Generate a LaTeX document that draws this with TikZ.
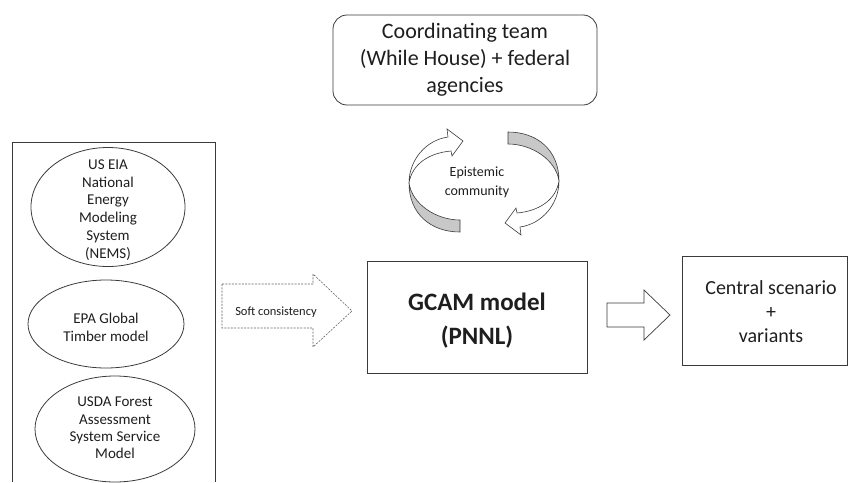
\documentclass[tikz,border=0pt]{standalone}
\usepackage{fontspec}
\setmainfont{Carlito}
\usetikzlibrary{shapes.geometric}
\definecolor{linec}{HTML}{3A3A3A}
\definecolor{ribbon}{HTML}{C8C8C8}
\definecolor{txt}{HTML}{1E1E1E}
\tikzset{
  outl/.style={draw=linec, line width=0.8pt},
  txtnode/.style={text=txt, align=center, inner sep=0pt},
  ellshape/.style={outl, ellipse, inner sep=0pt},
  pics/curvarrow/.style={code={
    % back (gray) half of the twisted ribbon
    \filldraw[fill=ribbon, draw=linec, line width=0.6pt]
      (-24,38) .. controls (-48,38) and (-72,22) .. (-75,1)
      .. controls (-75,32) and (-53,50) .. (-24,50) -- cycle;
    % front (white) half with arrow head
    \filldraw[fill=white, draw=linec, line width=0.6pt]
      (-75,1) .. controls (-75,-22) and (-58,-42) .. (-36,-45)
      -- (-37,-53) -- (-21,-41) -- (-32,-26) -- (-33,-31)
      .. controls (-55,-29) and (-72,-18) .. (-75,1) -- cycle;
  }}
}
\begin{document}
\begin{tikzpicture}[x=1pt,y=-1pt]
\useasboundingbox (0,0) rectangle (848,482);

% coordinating team
\node[outl, txtnode, rounded corners=14pt, minimum width=264pt, minimum height=90pt,
      font=\fontsize{22}{27}\selectfont] (coord) at (465,60)
  {Coordinating team\\(While House) + federal\\agencies};

% epistemic community
\pic at (484,182) {curvarrow};
\pic[rotate=180] at (484,182) {curvarrow};
\node[txtnode, font=\fontsize{14}{19}\selectfont] (epi) at (477,182) {Epistemic\\community};

% left container
\coordinate (cbl) at (12,482);
\coordinate (ctl) at (12,142);
\coordinate (ctr) at (215,142);
\coordinate (cbr) at (215,482);
\draw[outl] (cbl) -- (ctl) -- (ctr) -- (cbr);

% ellipses
\node[ellshape, minimum width=154pt, minimum height=119pt] (nems) at (108,207) {};
\node[txtnode, font=\fontsize{15}{17.8}\selectfont] (nemst) at (108,210)
  {US EIA\\National\\Energy\\Modeling\\System\\(NEMS)};
\node[ellshape, minimum width=156pt, minimum height=88pt] (epa) at (106,324) {};
\node[txtnode, font=\fontsize{15}{18.3}\selectfont] (epat) at (106,327)
  {EPA Global\\Timber model};
\node[ellshape, minimum width=160pt, minimum height=106pt] (usda) at (115,429) {};
\node[txtnode, font=\fontsize{15}{17.3}\selectfont] (usdat) at (115,428)
  {USDA Forest\\Assessment\\System Service\\Model};

% soft consistency arrow
\draw[draw=linec!80, line width=0.6pt, dash pattern=on 2pt off 1.3pt]
  (222,284) -- (313,284) -- (313,274) -- (352,311) -- (313,347) -- (313,328) -- (222,328) -- cycle;
\node[txtnode, font=\fontsize{12.5}{14}\selectfont] (soft) at (276,312) {Soft consistency};

% GCAM
\node[outl, txtnode, minimum width=220pt, minimum height=112pt] (gcam) at (477,317) {};
\node[txtnode, font=\bfseries\fontsize{25}{34}\selectfont] (gcamt) at (477,321) {GCAM model\\(PNNL)};

% right arrow
\draw[outl, line width=0.7pt]
  (607,303) -- (644,303) -- (644,290) -- (670,315) -- (644,340) -- (644,327) -- (607,327) -- cycle;

% central scenario
\node[outl, txtnode, minimum width=165pt, minimum height=109pt] (cent) at (764.5,310.5) {};
\node[txtnode, font=\fontsize{20}{24}\selectfont] (centt) at (771,312) {Central scenario\\+\\variants};
\end{tikzpicture}
\end{document}
